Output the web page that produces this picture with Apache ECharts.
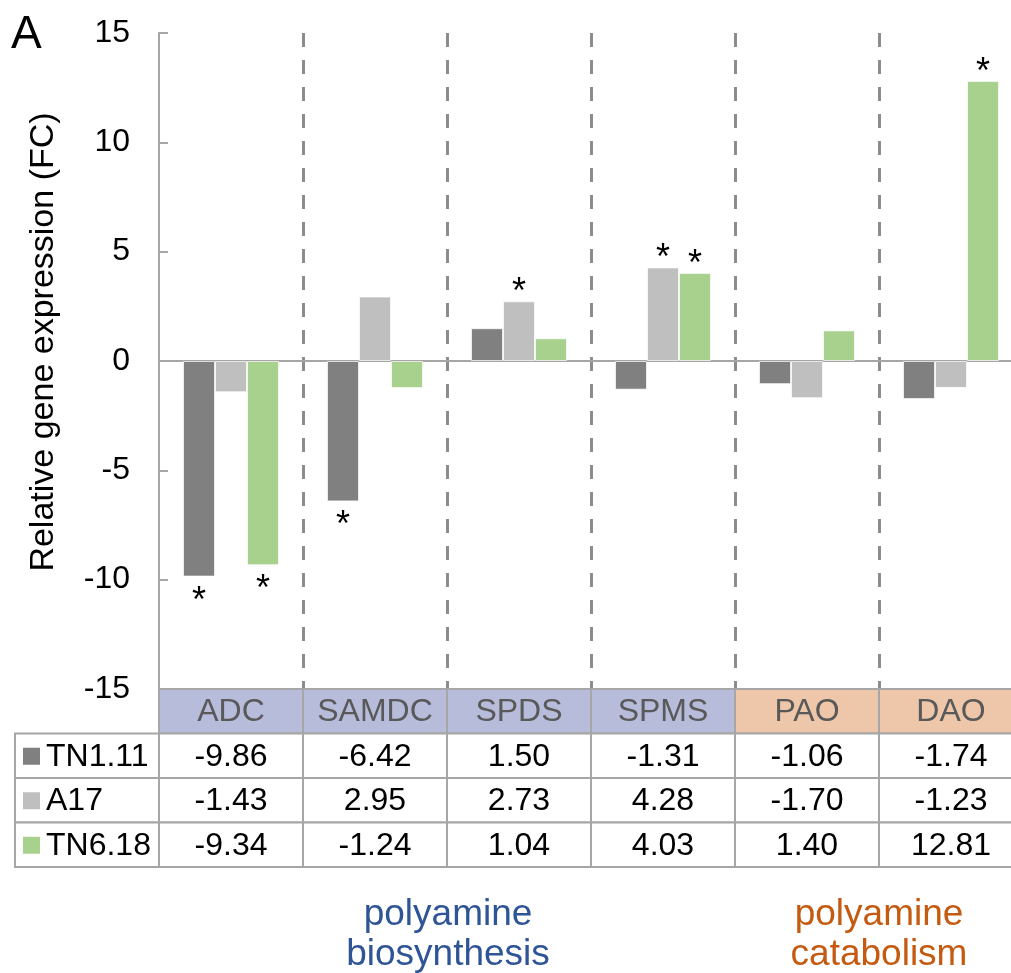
<!DOCTYPE html>
<html>
<head>
<meta charset="utf-8">
<script src="https://cdn.jsdelivr.net/npm/echarts@6/dist/echarts.min.js"></script>
<style>
  html, body { margin: 0; padding: 0; background: #fff; }
  #chart { width: 1011px; height: 973px; }
</style>
</head>
<body>
<div id="chart"></div>
<script>
// genes (categories) and which pathway they belong to
var genes = ['ADC', 'SAMDC', 'SPDS', 'SPMS', 'PAO', 'DAO']
var geneGroup = ['biosynthesis', 'biosynthesis', 'biosynthesis', 'biosynthesis', 'catabolism', 'catabolism']
var seriesNames = ['TN1.11', 'A17', 'TN6.18']

// fold change values
var tn111 = [-9.86, -6.42, 1.50, -1.31, -1.06, -1.74]
var a17 = [-1.43, 2.95, 2.73, 4.28, -1.70, -1.23]
var tn618 = [-9.34, -1.24, 1.04, 4.03, 1.40, 12.81]

// significance marks (*)
var tn111Star = [1, 1, 0, 0, 0, 0]
var a17Star = [0, 0, 1, 1, 0, 0]
var tn618Star = [1, 0, 0, 1, 0, 1]

var groupTitles = ['polyamine\nbiosynthesis', 'polyamine\ncatabolism']

var FONT = 'Liberation Sans, Arial, sans-serif'
var colors = ['#808080', '#bfbfbf', '#a9d18e']
var headerFill = { biosynthesis: '#b7bcdb', catabolism: '#eec7aa' }
var border = '#a6a6a6'

var chart = echarts.init(document.getElementById('chart'))

function barData (values, stars) {
  return values.map(function (v, i) {
    return {
      value: v,
      label: {
        show: !!stars[i],
        position: v < 0 ? 'bottom' : 'top',
        distance: v < 0 ? 8 : -9
      }
    }
  })
}

function barSeries (idx, values, stars) {
  return {
    name: seriesNames[idx],
    type: 'bar',
    xAxisIndex: 0,
    yAxisIndex: 0,
    barWidth: 32,
    barGap: '0%',
    itemStyle: { color: colors[idx], borderColor: 'rgba(255,255,255,0.7)', borderWidth: 1 },
    label: {
      formatter: '*',
      color: '#000',
      fontSize: 36,
      fontFamily: FONT,
      lineHeight: 34
    },
    data: barData(values, stars)
  }
}

// table cells: [column, row, text]; column -1 is the row label column, row 0 is the header
var allValues = [tn111, a17, tn618]
var tableCells = []
genes.forEach(function (g, c) { tableCells.push([c, 0, g]) })
allValues.forEach(function (vals, s) {
  tableCells.push([-1, s + 1, seriesNames[s]])
  vals.forEach(function (v, c) { tableCells.push([c, s + 1, v.toFixed(2)]) })
})

function renderCell (params, api) {
  var c = api.value(0)
  var r = api.value(1)
  var text = tableCells[params.dataIndex][2]
  var p0 = api.coord([c, r])
  var p1 = api.coord([c + 1, r])
  var h = api.size([0, 1])[1]
  var x = p0[0]
  var w = p1[0] - p0[0]
  var y = p0[1] - h / 2
  var fill = '#fff'
  var textColor = '#000'
  if (r === 0) {
    fill = headerFill[geneGroup[c]]
    textColor = '#595959'
  }
  var children = [{
    type: 'rect',
    shape: { x: x, y: y, width: w, height: h },
    style: { fill: fill, stroke: border, lineWidth: 2 }
  }]
  if (c === -1) {
    children.push({
      type: 'rect',
      shape: { x: x + 8, y: y + h / 2 - 8, width: 17, height: 17 },
      style: { fill: colors[r - 1] }
    })
    children.push({
      type: 'text',
      style: { text: text, x: x + 31, y: y + h / 2 + 1, align: 'left', verticalAlign: 'middle', fill: textColor, fontSize: 32, fontFamily: FONT }
    })
  } else {
    children.push({
      type: 'text',
      style: { text: text, x: x + w / 2, y: y + h / 2 + 1, align: 'center', verticalAlign: 'middle', fill: textColor, fontSize: 32, fontFamily: FONT }
    })
  }
  return { type: 'group', children: children }
}

var option = {
  animation: false,
  backgroundColor: '#fff',
  textStyle: { fontFamily: FONT },
  grid: [
    { left: 159, top: 33, height: 656, width: 864, containLabel: false, outerBoundsMode: 'none' },
    { left: 15, top: 689, height: 178, width: 1008, containLabel: false, outerBoundsMode: 'none' }
  ],
  xAxis: [
    {
      type: 'category',
      gridIndex: 0,
      data: genes,
      axisLine: { onZero: true, lineStyle: { color: border, width: 2 } },
      axisTick: { show: false },
      axisLabel: { show: false },
      splitLine: {
        show: true,
        showMinLine: false,
        lineStyle: { color: '#8c8c8c', width: 3, type: [14, 13] }
      }
    },
    { type: 'value', gridIndex: 1, min: -1, max: 6, show: false }
  ],
  yAxis: [
    {
      type: 'value',
      gridIndex: 0,
      min: -15,
      max: 15,
      interval: 5,
      name: 'Relative gene expression (FC)',
      nameLocation: 'middle',
      nameRotate: 90,
      nameGap: 98,
      nameTextStyle: { fontSize: 34, color: '#000', fontFamily: FONT, padding: [0, 0, 0, 38] },
      axisLine: { show: true, lineStyle: { color: border, width: 2 } },
      axisTick: { show: true, inside: true, length: 9, lineStyle: { color: border, width: 2 } },
      axisLabel: { fontSize: 32, color: '#000', margin: 29, fontFamily: FONT },
      splitLine: { show: false }
    },
    {
      type: 'category',
      gridIndex: 1,
      data: ['header'].concat(seriesNames),
      inverse: true,
      show: false
    }
  ],
  series: [
    barSeries(0, tn111, tn111Star),
    barSeries(1, a17, a17Star),
    barSeries(2, tn618, tn618Star),
    {
      type: 'custom',
      xAxisIndex: 1,
      yAxisIndex: 1,
      clip: false,
      renderItem: renderCell,
      data: tableCells.map(function (d) { return [d[0], d[1]] })
    }
  ],
  graphic: [
    { type: 'text', left: 11, top: 12, style: { text: 'A', fontSize: 46, fill: '#000', fontFamily: FONT } },
    { type: 'text', x: 448, y: 895, style: { text: groupTitles[0], fontSize: 37, lineHeight: 40, fill: '#2f5597', align: 'center', fontFamily: FONT } },
    { type: 'text', x: 879, y: 895, style: { text: groupTitles[1], fontSize: 37, lineHeight: 40, fill: '#c55a11', align: 'center', fontFamily: FONT } }
  ]
}

chart.setOption(option)
</script>
</body>
</html>
